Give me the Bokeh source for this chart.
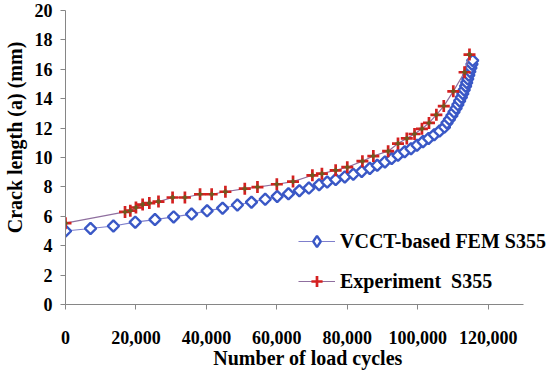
import math
from bokeh.plotting import figure
from bokeh.models import (ColumnDataSource, FixedTicker, NumeralTickFormatter,
                          Legend, LegendItem, Range1d)
from bokeh.embed import file_html
from bokeh.resources import INLINE

# ---------------- data ----------------
fem_cycles = [0, 7100, 13600, 19800, 25400, 30700, 35800, 40200, 44600, 48800,
              52800, 56700, 60100, 63300, 66400, 69100, 72000, 74300, 76700, 79300,
              81700, 84100, 86400, 88500, 90700, 92600, 94400, 96300, 98100, 99800,
              101500, 103100, 104700, 106200, 107600, 108300, 109000, 109700, 110300,
              110900, 111400, 111900, 112400, 112800, 113200, 113600, 113900, 114200,
              114500, 114800, 115100, 115400, 115600]
fem_crack = [5.0, 5.17, 5.34, 5.6, 5.78, 5.96, 6.15, 6.37, 6.55, 6.77,
             6.96, 7.16, 7.35, 7.53, 7.74, 7.92, 8.15, 8.33, 8.5, 8.68,
             8.86, 9.05, 9.26, 9.47, 9.7, 9.93, 10.15, 10.39, 10.6, 10.84,
             11.08, 11.3, 11.55, 11.8, 12.07, 12.35, 12.6, 12.85, 13.1,
             13.35, 13.6, 13.85, 14.1, 14.35, 14.6, 14.85, 15.1, 15.35,
             15.6, 15.85, 16.1, 16.35, 16.6]

exp_cycles = [0, 16900, 18400, 20000, 21900, 23800, 26400, 30400, 33900, 38200,
              41500, 45400, 50900, 54500, 60000, 64600, 70100, 72800, 76700, 80000,
              84300, 87400, 91600, 94400, 96900, 99100, 101200, 103200, 105300,
              107400, 110100, 113300, 114700]
exp_crack = [5.53, 6.30, 6.38, 6.6, 6.8, 6.9, 7.0, 7.28, 7.28, 7.5,
             7.5, 7.67, 7.88, 7.99, 8.18, 8.36, 8.79, 8.9, 9.13, 9.34,
             9.75, 10.1, 10.43, 10.95, 11.3, 11.6, 11.95, 12.35, 12.9,
             13.5, 14.5, 15.8, 17.0]

x_ticks = [0, 20000, 40000, 60000, 80000, 100000, 120000]
y_ticks = [0, 2, 4, 6, 8, 10, 12, 14, 16, 18, 20]

series_names = ["VCCT-based FEM S355", "Experiment  S355"]
x_title = "Number of load cycles"
y_title = "Crack length (a) (mm)"

FONT = "Liberation Serif"
NBSP = "\u00a0"

p = figure(width=550, height=371, output_backend="svg", toolbar_location=None,
           x_range=Range1d(0, 137700), y_range=Range1d(0, 20),
           min_border_left=64, min_border_right=0, min_border_top=10,
           min_border_bottom=67)
p.outline_line_color = None
p.grid.visible = False
p.background_fill_color = "white"

fem = ColumnDataSource(dict(x=fem_cycles, y=fem_crack))
exp = ColumnDataSource(dict(x=exp_cycles, y=exp_crack))

fem_line = p.line("x", "y", source=fem, line_color="#7f7fcc", line_width=1.2)
fem_pts = p.scatter("x", "y", source=fem, marker="square", angle=math.pi / 4,
                    size=8, line_color="#3a58c6", line_width=2.4, fill_color="white")
# renderer used only for the legend swatch (diamond shape)
fem_leg = p.scatter("x", "y", source=fem, marker="diamond", size=10,
                    line_color="#3a58c6", line_width=2.4, fill_color="white",
                    visible=False)

exp_line = p.line("x", "y", source=exp, line_color="#8f6f9f", line_width=1.2)
exp_pts = p.scatter("x", "y", source=exp, marker="cross", size=12,
                    line_color="#d42020", line_width=2.7)
exp_ctr = p.scatter("x", "y", source=exp, marker="cross", size=5,
                    line_color="#6e5a1e", line_width=2.0)

# axes
for ax in (p.xaxis[0], p.yaxis[0]):
    ax.axis_line_color = "#868686"
    ax.major_tick_line_color = "#868686"
    ax.major_tick_out = 5
    ax.major_tick_in = 0
    ax.minor_tick_line_color = None
    ax.major_label_text_font = FONT
    ax.major_label_text_font_style = "bold"
    ax.major_label_text_font_size = "18px"
    ax.major_label_text_color = "black"
    ax.axis_label_text_font = FONT
    ax.axis_label_text_font_style = "bold"
    ax.axis_label_text_font_size = "20px"
    ax.axis_label_text_color = "black"

p.xaxis.bounds = (0, 130000)
p.xaxis.ticker = FixedTicker(ticks=x_ticks)
p.yaxis.ticker = FixedTicker(ticks=y_ticks)
p.xaxis.formatter = NumeralTickFormatter(format="0,0")
p.xaxis.major_label_standoff = 21
p.yaxis.major_label_standoff = 8
p.xaxis.axis_label = x_title
p.xaxis.axis_label_standoff = 0
p.yaxis.axis_label = NBSP * 8 + y_title
p.yaxis.axis_label_standoff = 6

legend = Legend(items=[LegendItem(label=series_names[0], renderers=[fem_line, fem_leg]),
                       LegendItem(label=series_names[1], renderers=[exp_line, exp_pts])],
                location=(233, 9), padding=0, margin=0, spacing=12,
                glyph_width=37, glyph_height=28, label_height=28, label_standoff=5,
                label_text_font=FONT, label_text_font_style="bold",
                label_text_font_size="20px", label_text_color="black",
                background_fill_alpha=0, border_line_alpha=0)
p.add_layout(legend)

open("out.html", "w").write(file_html(p, INLINE))
